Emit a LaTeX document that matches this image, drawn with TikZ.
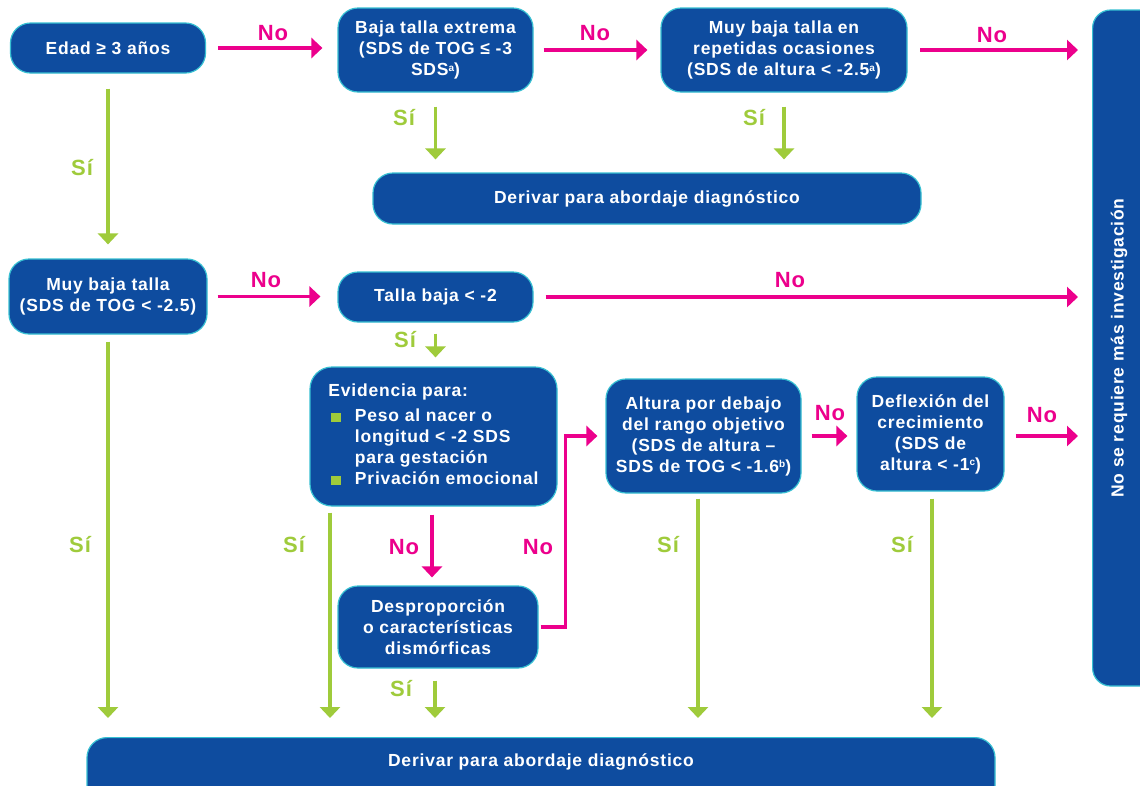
\documentclass[tikz,border=0pt]{standalone}
\usepackage{fontspec}
\setmainfont{Liberation Sans}[LetterSpace=4.5]
\usetikzlibrary{arrows.meta,calc}
\definecolor{boxblue}{HTML}{0E4C9F}
\definecolor{boxedge}{HTML}{37C0D2}
\definecolor{pinkc}{HTML}{EC008C}
\definecolor{greenc}{HTML}{9FCB3B}
\newcommand{\boxtxt}{\fontsize{17.5}{21}\selectfont\bfseries}
\newcommand{\labtxt}{\fontsize{22}{24}\selectfont\bfseries}
\newcommand{\bul}{\textcolor{greenc}{\rule{9.5pt}{9pt}}}
\newcommand{\sps}[1]{\raisebox{4.5pt}{\fontsize{10}{10}\selectfont #1}}
\tikzset{
  box/.style={draw=boxedge, line width=1.2pt, fill=boxblue, rounded corners=20pt,
    text=white, font=\boxtxt, align=center, inner sep=0pt},
  noarr/.style={draw=pinkc, line width=3.2pt, -{Triangle[length=11pt,width=20pt]}},
  siarr/.style={draw=greenc, line width=3.2pt, -{Triangle[length=11pt,width=20pt]}},
  nolab/.style={text=pinkc, font=\labtxt, inner sep=0pt},
  silab/.style={text=greenc, font=\labtxt, inner sep=0pt},
}
\begin{document}
\begin{tikzpicture}[x=1pt,y=-1pt]
\useasboundingbox (0,0) rectangle (1140,785);
\clip (0,0) rectangle (1140,785);
\fill[white] (0,0) rectangle (1140,785);

% boxes
\node[box, minimum width=195pt, minimum height=50pt] (edad) at (108,48) {Edad ≥ 3 años};
\node[box, minimum width=195pt, minimum height=84pt] (baja) at (435.5,50) {Baja talla extrema\\(SDS de TOG ≤ -3\\SDS\sps{a})};
\node[box, minimum width=246pt, minimum height=84pt] (rep) at (784,50) {Muy baja talla en\\repetidas ocasiones\\(SDS de altura < -2.5\sps{a})};
\node[box, rotate=90, anchor=north, minimum width=676pt, text height=31pt, text depth=60pt, rounded corners=18pt] (noreq) at (1092,348) {No se requiere más investigación};
\node[box, minimum width=548pt, minimum height=51pt] (derivtop) at (647,198.5) {Derivar para abordaje diagnóstico};
\node[box, minimum width=198pt, minimum height=75pt] (mbt) at (108,296.5) {Muy baja talla\\(SDS de TOG < -2.5)};
\node[box, minimum width=195pt, minimum height=50pt] (tb) at (435.5,297) {Talla baja < -2};
\node[box, minimum width=247pt, minimum height=139pt, rounded corners=22pt] (evid) at (433.5,436.5) {%
\begin{tabular}{@{}l@{\hspace{14pt}}l@{}}
\multicolumn{2}{@{}l@{}}{Evidencia para:}\\[4pt]
\hspace{3pt}\bul & Peso al nacer o\\
 & longitud < -2 SDS\\
 & para gestación\\
\hspace{3pt}\bul & Privación emocional
\end{tabular}};
\node[box, minimum width=195pt, minimum height=114pt] (alt) at (703.5,436) {Altura por debajo\\del rango objetivo\\(SDS de altura –\\SDS de TOG < -1.6\sps{b})};
\node[box, minimum width=147pt, minimum height=114pt] (defl) at (930.5,434) {Deflexión del\\crecimiento\\(SDS de\\altura < -1\sps{c})};
\node[box, minimum width=200pt, minimum height=82pt] (desp) at (438,627) {Desproporción\\o características\\dismórficas};
\node[box, anchor=north, minimum width=908pt, text height=29pt, text depth=60pt] (derivbot) at (541,737) {Derivar para abordaje diagnóstico};

% pink (No) arrows
\draw[noarr, shorten <=12pt, shorten >=15pt] (edad.east) -- (edad.east -| baja.west);
\draw[noarr, shorten <=10pt, shorten >=13pt] (baja.east) -- (rep.west);
\draw[noarr, shorten <=12.5pt, shorten >=14pt] (rep.east) -- (rep.east -| noreq.north);
\draw[noarr, shorten <=10pt, shorten >=17pt] (mbt.east) -- (mbt.east -| tb.west);
\draw[noarr, shorten <=12pt, shorten >=14pt] (tb.east) -- (tb.east -| noreq.north);
\draw[noarr, shorten <=8pt, shorten >=8pt] ([xshift=-1.5pt]evid.south) -- ([xshift=-1.5pt]evid.south |- desp.north);
\draw[noarr, shorten >=8pt] ([xshift=2pt]desp.east) -- ($(desp.east)+(27,0)$) |- (alt.west);
\draw[noarr, shorten <=10pt, shorten >=9pt] (alt.east) -- (alt.east -| defl.west);
\draw[noarr, shorten <=11pt, shorten >=14pt] (alt.east -| defl.east) -- (alt.east -| noreq.north);

% green (Si) arrows
\draw[siarr, shorten <=15pt, shorten >=14pt] (edad.south) -- (mbt.north);
\draw[siarr, shorten <=14pt, shorten >=13pt] (baja.south) -- (baja.south |- derivtop.north);
\draw[siarr, shorten <=14pt, shorten >=13pt] (rep.south) -- (rep.south |- derivtop.north);
\draw[siarr, shorten <=11pt, shorten >=9pt] (tb.south) -- (tb.south |- evid.north);
\draw[siarr, shorten <=7pt, shorten >=19pt] (mbt.south) -- (mbt.south |- derivbot.north);
\draw[siarr, shorten <=6pt, shorten >=19pt] ([xshift=-103.5pt]evid.south) -- ([xshift=-103.5pt]evid.south |- derivbot.north);
\draw[siarr, shorten <=12pt, shorten >=19pt] ([xshift=-3pt]desp.south) -- ([xshift=-3pt]desp.south |- derivbot.north);
\draw[siarr, shorten <=5pt, shorten >=19pt] ([xshift=-5.5pt]alt.south) -- ([xshift=-5.5pt]alt.south |- derivbot.north);
\draw[siarr, shorten <=7pt, shorten >=19pt] ([xshift=1.5pt]defl.south) -- ([xshift=1.5pt]defl.south |- derivbot.north);

% labels
\node[nolab] (l1) at (273,33) {No};
\node[nolab] (l2) at (595,33) {No};
\node[nolab] (l3) at (992,35) {No};
\node[nolab] (l4) at (266,280) {No};
\node[nolab] (l5) at (790,280) {No};
\node[nolab] (l6) at (404,547) {No};
\node[nolab] (l7) at (538,547) {No};
\node[nolab] (l8) at (830,413) {No};
\node[nolab] (l9) at (1042,415) {No};
\node[silab] (s1) at (82,168) {Sí};
\node[silab] (s2) at (404,118) {Sí};
\node[silab] (s3) at (754,118) {Sí};
\node[silab] (s4) at (405,340) {Sí};
\node[silab] (s5) at (80,545) {Sí};
\node[silab] (s6) at (294,545) {Sí};
\node[silab] (s7) at (401,689) {Sí};
\node[silab] (s8) at (668,545) {Sí};
\node[silab] (s9) at (902,545) {Sí};
\end{tikzpicture}
\end{document}
